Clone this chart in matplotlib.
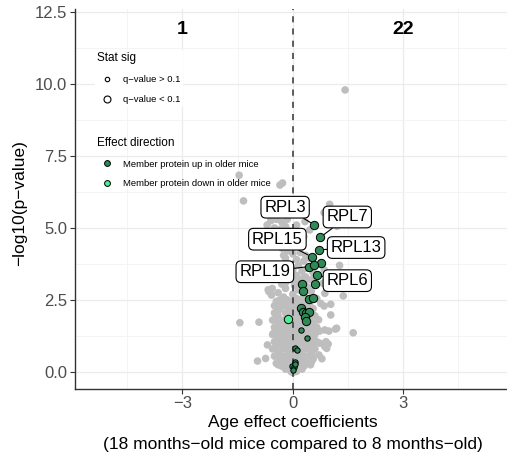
import matplotlib
matplotlib.use("Agg")
import matplotlib.pyplot as plt
from matplotlib.lines import Line2D

plt.rcParams['font.family'] = ['Liberation Sans', 'DejaVu Sans']

# ---------------- data ----------------
# background (non-member) proteins: age effect, -log10(p)
gray_x = [1.42, -1.46, -0.35, -0.28, -1.34, 1.00, 0.85, 1.20, 0.33, 0.46,
          -0.60, -0.45, -0.30, -0.20, -0.15, -0.50, -0.35, -0.10, -0.25, -0.40,
          -0.12, 0.05, 0.10, 0.15, -0.20, 0.25, 0.30,
          -0.30, -0.15, 0.00, 0.20, 0.35, -0.20, 0.10, 0.30, -0.10, 0.15,
          0.40, 0.00, 0.25, 0.55, 0.85,
          1.27, 0.82, 0.87, 1.37, 1.39,
          0.10, 0.35, 0.50, -0.05, 0.20, -0.30, 0.05, 0.40, -0.20, 0.15,
          0.50, -0.40, 0.00, 0.30, -0.25, 0.10, 0.65, -0.45, -0.05, 0.25,
          0.45, -0.67, -0.58, -0.56, -0.65,
          -0.50, -0.20, 0.10, 0.40,
          -0.35, -0.05, 0.25, 0.55,
          -0.50, -0.20, 0.10, 0.40,
          -0.40, -0.05, 0.25, 0.60,
          -0.55, -0.25, 0.05, 0.45,
          -0.40, -0.10, 0.20, 0.55,
          -0.50, -0.20, 0.10, 0.40, 0.65,
          -0.35, -0.05, 0.25, 0.55,
          -0.55, -0.25, 0.05, 0.35, 0.60,
          -0.40, -0.10, 0.20, 0.50,
          -0.50, -0.20, 0.10, 0.40, 0.65,
          -0.35, -0.05, 0.25, 0.55,
          -0.55, -0.25, 0.05, 0.35, 0.60,
          -0.40, -0.10, 0.20, 0.50,
          -0.50, -0.20, 0.10, 0.40,
          -0.35, -0.05, 0.25, 0.55,
          -0.45, -0.15, 0.15, 0.40,
          -0.30, 0.00, 0.30,
          -0.20, 0.10, 0.25,
          -0.05, 0.10,
          -1.44, -0.92, -0.69, -0.96, -0.74, -0.53, 1.64, 1.19, 0.98, 0.73,
          0.85, 0.70, 0.90, 0.92, 0.79, 0.51, 0.71, 0.96, 1.03, 1.03,
          0.76, 0.87, 0.73, 1.16, 0.87,
          -0.15, 0.05, 0.28,
          -0.20, 0.10, 0.32,
          -0.35, -0.15, 0.15, 0.38,
          -0.30, 0.00, 0.30,
          -0.40, -0.10, 0.20, 0.48,
          -0.45, -0.15, 0.15, 0.38,
          -0.30, 0.00, 0.30, 0.52,
          -0.45, -0.15, 0.15, 0.45,
          -0.30, 0.00, 0.30, 0.58,
          -0.45, -0.15, 0.15, 0.45,
          -0.35, -0.05, 0.25, 0.52,
          -0.25, 0.05, 0.30,
          -0.40, -0.08, 0.20, 0.48,
          -0.12, 0.18,
          0.00,
          -0.25, 0.05, -0.35, -0.05, 0.45, -0.40, -0.55, -0.70]
gray_y = [9.79, 6.83, 6.49, 6.56, 5.94, 5.82, 5.53, 5.06, 5.22, 4.93,
          5.25, 5.30, 5.20, 5.05, 5.30, 5.00, 4.95, 4.90, 4.75, 4.70,
          4.60, 4.80, 5.10, 4.55, 4.45, 4.35, 4.70,
          4.30, 4.20, 4.10, 4.15, 4.05, 3.95, 3.90, 3.85, 3.75, 3.70,
          3.60, 3.55, 3.50, 3.45, 3.55,
          3.70, 3.08, 2.73, 2.64, 2.96,
          3.35, 3.30, 3.20, 3.20, 3.15, 3.05, 3.00, 2.95, 2.90, 2.85,
          2.80, 2.75, 2.70, 2.65, 2.60, 2.55, 2.55, 2.45, 2.45, 2.40,
          2.35, 2.85, 2.67, 2.90, 2.79,
          2.30, 2.30, 2.30, 2.30,
          2.20, 2.20, 2.20, 2.20,
          2.05, 2.05, 2.05, 2.05,
          1.95, 1.95, 1.95, 1.95,
          1.80, 1.80, 1.80, 1.80,
          1.70, 1.70, 1.70, 1.70,
          1.55, 1.55, 1.55, 1.55, 1.55,
          1.45, 1.45, 1.45, 1.45,
          1.30, 1.30, 1.30, 1.30, 1.30,
          1.20, 1.20, 1.20, 1.20,
          1.05, 1.05, 1.05, 1.05, 1.05,
          0.95, 0.95, 0.95, 0.95,
          0.80, 0.80, 0.80, 0.80, 0.80,
          0.70, 0.70, 0.70, 0.70,
          0.55, 0.55, 0.55, 0.55,
          0.45, 0.45, 0.45, 0.45,
          0.30, 0.30, 0.30, 0.30,
          0.20, 0.20, 0.20,
          0.10, 0.10, 0.10,
          0.02, 0.02,
          1.71, 1.73, 0.94, 0.38, 0.47, 1.34, 1.36, 1.52, 1.42, 1.42,
          2.29, 1.81, 1.05, 0.82, 0.46, 0.36, 0.59, 0.97, 1.98, 2.35,
          2.38, 0.88, 1.00, 1.49, 1.46,
          3.25, 3.25, 3.25,
          3.10, 3.10, 3.10,
          2.50, 2.50, 2.50, 2.50,
          2.38, 2.38, 2.38,
          2.12, 2.12, 2.12, 2.12,
          1.88, 1.88, 1.88, 1.88,
          1.62, 1.62, 1.62, 1.62,
          1.38, 1.38, 1.38, 1.38,
          1.12, 1.12, 1.12, 1.12,
          0.88, 0.88, 0.88, 0.88,
          0.62, 0.62, 0.62, 0.62,
          0.38, 0.38, 0.38,
          0.25, 0.25, 0.25, 0.25,
          0.15, 0.15,
          -0.02,
          4.05, 4.35, 3.65, 3.40, 3.95, 4.50, 4.85, 5.10]

# member proteins (ribosomal large subunit), q < 0.1
sig_up_x = [0.58, 0.75, 0.72, 0.51, 0.76, 0.44, 0.57, 0.66, 0.26, 0.60,
            0.27, 0.44, 0.55, 0.23, 0.28, 0.37, 0.44, 0.33, 0.37]
sig_up_y = [5.11, 4.68, 4.24, 4.00, 3.80, 3.66, 3.70, 3.35, 3.07, 3.06,
            2.82, 2.55, 2.57, 2.23, 2.07, 2.04, 2.07, 1.92, 1.78]
sig_down_x = [-0.14]
sig_down_y = [1.85]
# member proteins, q > 0.1
ns_up_x = [0.23, 0.39, 0.06, 0.10, 0.05, -0.01, 0.04, 0.01, 0.06]
ns_up_y = [1.46, 1.19, 0.82, 0.76, 0.36, 0.22, 0.16, 0.07, 0.28]

# labelled proteins: name, point, label position
label_names = ["RPL3", "RPL7", "RPL13", "RPL15", "RPL19", "RPL6"]
label_px = [0.58, 0.75, 0.72, 0.51, 0.44, 0.66]
label_py = [5.11, 4.68, 4.24, 4.00, 3.66, 3.35]
label_tx = [-0.21, 1.48, 1.72, -0.42, -0.76, 1.48]
label_ty = [5.72, 5.38, 4.32, 4.61, 3.48, 3.17]

count_labels = ["1", "22"]
count_x = [-3, 3]
count_y = [11.9, 11.9]

x_ticks = [-3, 0, 3]
y_ticks = [0.0, 2.5, 5.0, 7.5, 10.0, 12.5]

# ---------------- figure ----------------
W, H = 507, 457
fig = plt.figure(figsize=(W / 100, H / 100), dpi=100)
ax = fig.add_axes([75 / W, 68.3 / H, (W - 75) / W, (448 - 68.3) / H])
ax.set_xlim(-5.92, 5.82)
ax.set_ylim(-0.58, 12.6)

dark_green = "#2E8B57"
light_green = "#4EEE94"
gray = "#BEBEBE"

# grid
ax.set_xticks(x_ticks)
ax.set_yticks(y_ticks)
ax.set_xticks([-4.5, -1.5, 1.5, 4.5], minor=True)
ax.set_yticks([1.25, 3.75, 6.25, 8.75, 11.25], minor=True)
ax.grid(True, which="major", color="#EBEBEB", lw=0.9, zorder=0)
ax.grid(True, which="minor", color="#F2F2F2", lw=0.6, zorder=0)
ax.set_axisbelow(True)
ax.tick_params(which="minor", length=0)
ax.tick_params(which="major", length=3.5, width=0.8, color="#333333",
               labelsize=12, labelcolor="#4D4D4D", pad=2)
ax.set_xticklabels(["\u22123", "0", "3"])
ax.set_yticklabels([f"{v:.1f}" for v in y_ticks])
for s in ["top", "right"]:
    ax.spines[s].set_visible(False)
for s in ["left", "bottom"]:
    ax.spines[s].set_color("#333333")
    ax.spines[s].set_linewidth(1.0)

ax.axvline(0, color="#333333", lw=1.1, ls=(0, (4, 4)), zorder=3.5)

# points
ax.scatter(gray_x, gray_y, s=30, c=gray, edgecolors="none", zorder=2)
ax.scatter(ns_up_x, ns_up_y, s=15, c=dark_green, edgecolors="black",
           linewidths=0.7, zorder=4)
ax.scatter(sig_up_x, sig_up_y, s=36, c=dark_green, edgecolors="black",
           linewidths=0.7, zorder=4)
ax.scatter(sig_down_x, sig_down_y, s=36, c=light_green, edgecolors="black",
           linewidths=0.7, zorder=4)

# labels
for name, px, py, tx, ty in zip(label_names, label_px, label_py, label_tx, label_ty):
    ax.annotate(name, xy=(px, py), xytext=(tx, ty), ha="center", va="center",
                fontsize=12, color="black", zorder=6,
                bbox=dict(boxstyle="round,pad=0.2,rounding_size=0.3",
                          fc="white", ec="black", lw=0.8),
                arrowprops=dict(arrowstyle="-", color="black", lw=0.8,
                                shrinkA=0, shrinkB=3))

for t, x, y in zip(count_labels, count_x, count_y):
    ax.text(x, y, t, ha="center", va="center", fontsize=14,
            fontweight="bold", color="black")

# legends
h1 = [Line2D([], [], ls="", marker="o", ms=3.2, mfc="white", mec="black", mew=0.8),
      Line2D([], [], ls="", marker="o", ms=5.0, mfc="white", mec="black", mew=0.8)]
leg1 = ax.legend(h1, ["q\u2212value > 0.1", "q\u2212value < 0.1"], title="Stat sig",
                 loc="upper left", bbox_to_anchor=(0.036, 0.905), fontsize=6.8,
                 title_fontsize=8.5, frameon=True, framealpha=1, edgecolor="white",
                 handlelength=2.1, handletextpad=0.66, labelspacing=1.2,
                 borderpad=0.2)
leg1._legend_box.align = "left"
ax.add_artist(leg1)
h2 = [Line2D([], [], ls="", marker="o", ms=4.2, mfc=dark_green, mec="black", mew=0.7),
      Line2D([], [], ls="", marker="o", ms=4.2, mfc=light_green, mec="black", mew=0.7)]
leg2 = ax.legend(h2, ["Member protein up in older mice", "Member protein down in older mice"],
                 title="Effect direction", loc="upper left",
                 bbox_to_anchor=(0.036, 0.68), fontsize=6.8, title_fontsize=8.5,
                 frameon=False, handlelength=2.1, handletextpad=0.66,
                 labelspacing=1.1, borderpad=0.2)
leg2._legend_box.align = "left"

# axis titles
fig.text(20 / W, 1 - 203 / H, "\u2212log10(p\u2212value)", rotation=90,
         ha="center", va="center", fontsize=12.5)
fig.text(293 / W, 1 - 423 / H, "Age effect coefficients", ha="center",
         va="center", fontsize=12.5)
fig.text(293 / W, 1 - 445 / H, "(18 months\u2212old mice compared to 8 months\u2212old)",
         ha="center", va="center", fontsize=12.5)

fig.savefig("out.png", dpi=100)
